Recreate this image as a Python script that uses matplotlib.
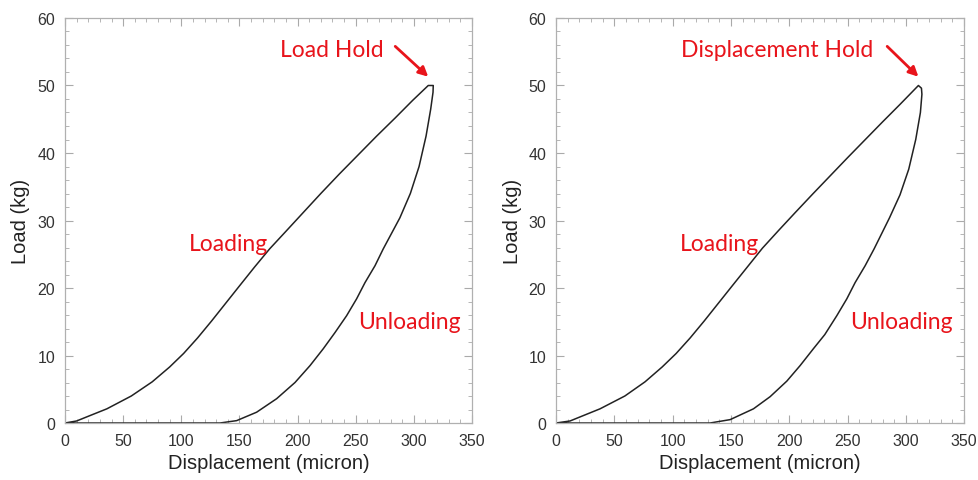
import matplotlib.pyplot as plt
from matplotlib.ticker import MultipleLocator

# Load-displacement loops for the two hold modes (micron, kg)
load_hold_x = [0, 10, 21.5, 36, 57, 75, 90, 102, 114, 126, 138, 150, 163, 176, 190, 205, 220,
               236, 252, 268, 284, 299, 312.4, 316.7,
               316.5, 314.5, 310.5, 304.5, 297, 288, 273.7, 266.6, 258, 250.8, 242.2, 232.2,
               222.1, 210.7, 197.8, 182, 164.8, 147.6, 133.3, 100, 50, 0]
load_hold_y = [0, 0.3, 1.1, 2.1, 4.0, 6.1, 8.3, 10.3, 12.6, 15.1, 17.7, 20.3, 23.1, 25.8, 28.4,
               31.2, 34.0, 36.9, 39.7, 42.5, 45.2, 47.8, 50.0, 50.0,
               49.0, 46.5, 42.5, 38.0, 34.0, 30.4, 25.8, 23.3, 20.8, 18.4, 15.9, 13.4,
               11.0, 8.5, 6.0, 3.6, 1.6, 0.35, 0, 0, 0, 0]

disp_hold_x = [0, 12, 23.4, 37.7, 59, 76.3, 91, 103, 115, 127, 139, 151, 164, 177, 191, 205,
               220, 235, 250, 265, 280, 295, 310.8, 313.4, 313.8,
               312.5, 308.5, 302.5, 295, 286, 272.8, 265.1, 256.5, 249.4, 240.8, 230.5,
               220.7, 209.3, 197.9, 183.6, 169.3, 149.3, 132.1, 100, 50, 0]
disp_hold_y = [0, 0.3, 1.1, 2.1, 4.0, 6.1, 8.3, 10.3, 12.6, 15.1, 17.7, 20.3, 23.1, 25.9, 28.55,
               31.15, 33.9, 36.6, 39.3, 41.95, 44.6, 47.2, 50.0, 49.6, 48.7,
               46.0, 42.0, 37.6, 33.8, 30.4, 25.8, 23.3, 20.8, 18.4, 15.9, 13.1,
               11.0, 8.5, 6.2, 3.9, 2.1, 0.5, 0, 0, 0, 0]

hold_labels = ["Load Hold", "Displacement Hold"]
hold_label_x = [229.6, 189.6]
peak_index = [22, 22]

red = "#e8141b"
label_font = ["Lato", "DejaVu Sans"]
plt.rcParams['font.family'] = ['Liberation Sans', 'DejaVu Sans']

fig = plt.figure(figsize=(9.79, 4.81), dpi=100)
ax_left = fig.add_axes([0.0664, 0.1185, 0.4157, 0.842])
ax_right = fig.add_axes([0.5680, 0.1185, 0.4168, 0.842])

panels = [
    (ax_left, load_hold_x, load_hold_y, 0),
    (ax_right, disp_hold_x, disp_hold_y, 1),
]

for ax, xs, ys, i in panels:
    ax.plot(xs, ys, color="#222222", linewidth=1.1)
    ax.set_xlim(0, 350)
    ax.set_ylim(0, 60)
    ax.xaxis.set_major_locator(MultipleLocator(50))
    ax.xaxis.set_minor_locator(MultipleLocator(10))
    ax.yaxis.set_major_locator(MultipleLocator(10))
    ax.yaxis.set_minor_locator(MultipleLocator(2))
    ax.tick_params(which='both', direction='in', top=True, right=True,
                   color='#aaaaaa', labelcolor='#333333', labelsize=11.5)
    ax.tick_params(which='major', length=6, width=0.8, pad=7)
    ax.tick_params(which='minor', length=3, width=0.6)
    for sp in ax.spines.values():
        sp.set_color('#b0b0b0')
        sp.set_linewidth(0.9)
    ax.set_xlabel("Displacement (micron)", fontsize=14.5, color='#222222', labelpad=4)
    ax.set_ylabel("Load (kg)", fontsize=14.5, color='#222222', labelpad=5)

    ax.text(hold_label_x[i], 55.4, hold_labels[i], color=red, fontsize=16.5,
            ha='center', va='center', family=label_font)
    ax.annotate("", xy=(xs[peak_index[i]], 51.3), xytext=(284, 55.8),
                arrowprops=dict(arrowstyle='-|>', color=red, lw=2,
                                mutation_scale=14, shrinkA=0, shrinkB=0))
    ax.text(140.5, 26.6, "Loading", color=red, fontsize=16.5,
            ha='center', va='center', family=label_font)
    ax.text(296, 15.1, "Unloading", color=red, fontsize=16.5,
            ha='center', va='center', family=label_font)

fig.savefig("out.png", dpi=100, facecolor='white')
